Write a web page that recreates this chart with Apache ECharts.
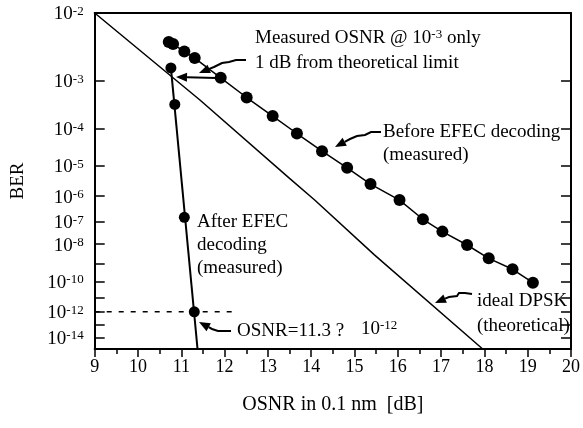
<!DOCTYPE html>
<html><head><meta charset="utf-8">
<script src="https://cdn.jsdelivr.net/npm/echarts@6/dist/echarts.min.js"></script>
<style>html,body{margin:0;padding:0;background:#fff}#c{width:583px;height:428px}</style>
</head><body><div id="c"></div>
<script>
// ---- data (BER given as exponent n, BER = 10^-n) ----
const beforeOSNR = [10.71, 10.81, 11.07, 11.31, 11.91, 12.51, 13.11, 13.67, 14.25, 14.83, 15.37, 16.04, 16.58, 17.03, 17.60, 18.10, 18.65, 19.12];
const beforeExp  = [2.38, 2.41, 2.52, 2.62, 2.95, 3.32, 3.71, 4.12, 4.58, 5.06, 5.58, 6.14, 6.89, 7.42, 8.04, 8.71, 9.30, 10.08];
const afterOSNR  = [10.76, 10.85, 11.07, 11.30];
const afterExp   = [2.78, 3.46, 6.81, 12.0];
const afterFitOSNR = [10.76, 11.375];
const afterFitExp  = [2.78, 15.0];
const idealOSNR  = [9.0, 11.43, 13.50, 14.08, 15.46, 17.96];
const idealExp   = [2.0, 3.37, 5.39, 6.14, 8.53, 15.0];
const refOSNR    = [9.0, 12.3];
const refExp     = [12, 12];
const yTickExp   = [3, 4, 5, 6, 7, 8, 9, 10, 11, 12, 13, 14];
const yLabelExp  = [2, 3, 4, 5, 6, 7, 8, 10, 12, 14];
const yExpMin = 2, yExpMax = 15;
const xMin = 9, xMax = 20;

const tv = n => Math.log10(n);
const pairs = (xs, ns) => xs.map((x, i) => [x, tv(ns[i])]);

const FONT = '"Liberation Serif", "Times New Roman", serif';
const chart = echarts.init(document.getElementById('c'), null, {renderer: 'canvas'});

const yLabelRich = {
  b: {fontFamily: FONT, fontSize: 19, lineHeight: 19, verticalAlign: 'bottom', color: '#000'},
  s: {fontFamily: FONT, fontSize: 13, lineHeight: 12, verticalAlign: 'top', padding: [0, 0, 17, 0], color: '#000'}
};

// labels split over two overlaid left axes so that close neighbours are not dropped
const yLabelSetA = yLabelExp.filter((n, i) => i % 2 === 0);
const yLabelSetB = yLabelExp.filter((n, i) => i % 2 === 1);

function yAxisCfg(kind, labelSet) {
  const right = kind === 'right';
  const main = kind === 'left';
  return {
    type: 'value', inverse: true, min: tv(yExpMin), max: tv(yExpMax),
    position: right ? 'right' : 'left', offset: 0,
    axisLine: {show: kind !== 'extra', onZero: false, lineStyle: {color: '#000', width: 2}},
    axisTick: {show: kind !== 'extra', inside: true, length: 10, customValues: yTickExp.map(tv), lineStyle: {color: '#000', width: 1.5}},
    axisLabel: right ? {show: false} : {
      show: true, customValues: labelSet.map(tv), margin: 11, padding: [3, 0, 0, 0],
      hideOverlap: false, showMinLabel: true, showMaxLabel: true,
      formatter: v => '{b|10}{s|-' + Math.round(Math.pow(10, v)) + '}', rich: yLabelRich
    },
    splitLine: {show: false},
    name: main ? 'BER' : '', nameLocation: 'middle', nameGap: 67,
    nameTextStyle: {fontFamily: FONT, fontSize: 19, color: '#000'}
  };
}

const lineBase = {type: 'line', silent: true, animation: false, z: 3};
chart.setOption({
  animation: false,
  grid: {left: 94.7, right: 11, top: 13, bottom: 79, containLabel: false},
  xAxis: [{
    type: 'value', min: xMin, max: xMax, interval: 1,
    axisLine: {onZero: false, lineStyle: {color: '#000', width: 2}},
    axisTick: {inside: false, length: 8, lineStyle: {color: '#000', width: 1.5}},
    minorTick: {show: true, splitNumber: 2, length: 5, lineStyle: {color: '#000', width: 1.5}},
    axisLabel: {fontFamily: FONT, fontSize: 18, color: '#000', margin: 9},
    splitLine: {show: false}, minorSplitLine: {show: false},
    name: 'OSNR in 0.1 nm  [dB]', nameLocation: 'middle', nameGap: 46,
    nameTextStyle: {fontFamily: FONT, fontSize: 20, color: '#000'}
  }, {
    type: 'value', position: 'top', min: xMin, max: xMax,
    axisLine: {show: true, onZero: false, lineStyle: {color: '#000', width: 2}},
    axisTick: {show: false}, axisLabel: {show: false}, splitLine: {show: false}
  }],
  yAxis: [yAxisCfg('left', yLabelSetA), yAxisCfg('extra', yLabelSetB), yAxisCfg('right', [])],
  series: [
    Object.assign({}, lineBase, {name: 'ideal DPSK', data: pairs(idealOSNR, idealExp), symbol: 'none',
      lineStyle: {color: '#000', width: 1.5}}),
    Object.assign({}, lineBase, {name: 'Before EFEC', data: pairs(beforeOSNR, beforeExp), symbol: 'circle', symbolSize: 12,
      itemStyle: {color: '#000', opacity: 1}, lineStyle: {color: '#000', width: 1.5}}),
    Object.assign({}, lineBase, {name: 'After EFEC fit', data: pairs(afterFitOSNR, afterFitExp), symbol: 'none',
      lineStyle: {color: '#000', width: 2}}),
    {type: 'scatter', name: 'After EFEC', data: pairs(afterOSNR, afterExp), symbol: 'circle', symbolSize: 11,
      itemStyle: {color: '#000', opacity: 1}, silent: true, z: 4},
    Object.assign({}, lineBase, {name: 'ref', data: pairs(refOSNR, refExp), symbol: 'none',
      lineStyle: {color: '#000', width: 1.5, type: [5, 7]}})
  ]
});

// ---- annotations ----
const txt = {fontFamily: FONT, fontSize: 19, lineHeight: 19, verticalAlign: 'bottom', color: '#000'};
const sup = {fontFamily: FONT, fontSize: 13, lineHeight: 12, verticalAlign: 'top', padding: [0, 0, 15, 0], color: '#000'};
function label(x, y, text) {
  return {type: 'text', x: x, y: y, silent: true, z: 10,
    style: {text: text, fill: '#000', font: '19px ' + FONT, align: 'left', verticalAlign: 'middle', rich: {n: txt, s: sup}}};
}
function arrow(points) {
  const tip = points[points.length - 1], prev = points[points.length - 2];
  const ang = Math.atan2(tip[1] - prev[1], tip[0] - prev[0]);
  const L = 11, W = 4.5;
  const bx = tip[0] - L * Math.cos(ang), by = tip[1] - L * Math.sin(ang);
  const px = -Math.sin(ang) * W, py = Math.cos(ang) * W;
  return [
    {type: 'polyline', silent: true, z: 10, shape: {points: points.slice(0, -1).concat([[bx, by]])}, style: {stroke: '#000', lineWidth: 2, fill: null}},
    {type: 'polygon', silent: true, z: 10, shape: {points: [tip, [bx + px, by + py], [bx - px, by - py]]}, style: {fill: '#000'}}
  ];
}
const g = [
  label(255, 38, '{n|Measured OSNR @ 10}{s|-3}{n| only}'),
  label(255, 63, '1 dB from theoretical limit'),
  label(383, 132, 'Before EFEC decoding'),
  label(383, 155, '(measured)'),
  label(197, 222, 'After EFEC'),
  label(197, 245, 'decoding'),
  label(197, 268, '(measured)'),
  label(477, 301, 'ideal DPSK'),
  label(477, 326, '(theoretical)'),
  label(237, 331, 'OSNR=11.3 ?'),
  label(361, 329, '{n|10}{s|-12}')
].concat(
  arrow([[246, 60], [236, 60], [229, 62], [222, 63], [214, 67], [199, 73]]),
  arrow([[216, 78], [176, 77]]),
  arrow([[381, 132], [371, 132], [365, 135], [357, 136], [350, 139], [335, 147]]),
  arrow([[472, 294], [465, 293], [459, 293], [457, 296], [449, 297], [435, 303]]),
  arrow([[231, 331], [218, 331], [212, 329], [199, 322]])
);
chart.setOption({graphic: {elements: g}});
</script>
</body></html>
